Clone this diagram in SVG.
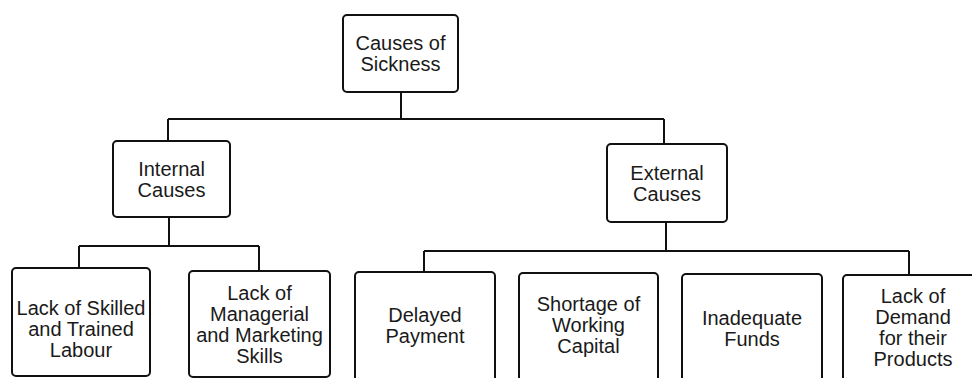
<svg xmlns="http://www.w3.org/2000/svg" width="972" height="378" viewBox="0 0 972 378">
<style>
.box{fill:#fff;stroke:#111;stroke-width:2}
.con{fill:none;stroke:#111;stroke-width:2}
text{font-family:"Liberation Sans",Arial,sans-serif;font-size:20px;fill:#1a1a1a;text-anchor:middle}
</style>
<rect width="972" height="378" fill="#fff"/>
<g id="connectors">
<path class="con" d="M401 92 V119 M168 119 H664 M168 119 V141 M664 119 V144"/>
<path class="con" d="M169 217 V246 M79 246 H259 M79 246 V268 M259 246 V271"/>
<path class="con" d="M666 222 V251 M424 251 H909 M424 251 V272 M909 251 V275"/>
</g>
<g id="root">
<rect class="box" x="343" y="15" width="115" height="77" rx="4"/>
<text x="400.5" y="50">Causes of</text>
<text x="400.5" y="71">Sickness</text>
</g>
<g id="internal">
<rect class="box" x="113" y="141" width="117" height="76" rx="4"/>
<text x="171.5" y="176">Internal</text>
<text x="171.5" y="197">Causes</text>
</g>
<g id="external">
<rect class="box" x="607" y="144" width="120" height="78" rx="4"/>
<text x="667" y="180">External</text>
<text x="667" y="201">Causes</text>
</g>
<g id="skilled">
<rect class="box" x="12" y="268" width="138" height="108" rx="4"/>
<text x="81" y="315">Lack of Skilled</text>
<text x="81" y="336">and Trained</text>
<text x="81" y="357">Labour</text>
</g>
<g id="managerial">
<rect class="box" x="189" y="271" width="141" height="106" rx="4"/>
<text x="259.5" y="300">Lack of</text>
<text x="259.5" y="321">Managerial</text>
<text x="259.5" y="342">and Marketing</text>
<text x="259.5" y="363">Skills</text>
</g>
<g id="delayed">
<rect class="box" x="355" y="272" width="140" height="110" rx="4"/>
<text x="425" y="322">Delayed</text>
<text x="425" y="343">Payment</text>
</g>
<g id="shortage">
<rect class="box" x="519" y="273" width="139" height="110" rx="4"/>
<text x="588.5" y="311">Shortage of</text>
<text x="588.5" y="332">Working</text>
<text x="588.5" y="353">Capital</text>
</g>
<g id="funds">
<rect class="box" x="682" y="274" width="140" height="110" rx="4"/>
<text x="752" y="325">Inadequate</text>
<text x="752" y="346">Funds</text>
</g>
<g id="demand">
<rect class="box" x="843" y="275" width="140" height="110" rx="4"/>
<text x="913" y="303">Lack of</text>
<text x="913" y="324">Demand</text>
<text x="913" y="345">for their</text>
<text x="913" y="366">Products</text>
</g>
</svg>
